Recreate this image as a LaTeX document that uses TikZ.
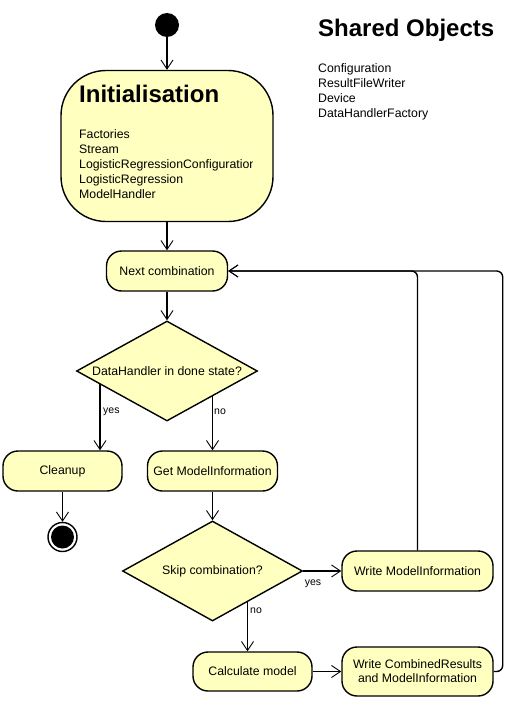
\documentclass[tikz,border=0pt]{standalone}
\usepackage{fontspec}
\setmainfont{Liberation Sans}
\usetikzlibrary{shapes.geometric,arrows.meta,calc}
\definecolor{boxfill}{HTML}{FFFFC0}
\pgfdeclarelayer{bg}
\pgfdeclarelayer{back}
\pgfsetlayers{back,bg,main}
\begin{document}
\begin{tikzpicture}[x=1pt,y=-1pt,
  box/.style={draw, fill=boxfill, line width=1.4pt, rounded corners=15pt, inner sep=0pt,
              font=\fontsize{12.3}{14}\selectfont, align=center},
  dia/.style={draw, fill=boxfill, line width=1.4pt, diamond, inner sep=0pt},
  arr/.style={line width=1.4pt, -{Straight Barb[length=9pt,width=12pt,line width=0.9pt]}},
  lbl/.style={font=\fontsize{10.5}{12}\selectfont, inner sep=0pt},
  txt/.style={font=\fontsize{12.3}{14}\selectfont, inner sep=0pt},
  item/.style={font=\fontsize{12.3}{15}\selectfont, inner sep=0pt, anchor=base west},
  head/.style={font=\bfseries\fontsize{24}{28}\selectfont, inner sep=0pt, anchor=base west},
]
\useasboundingbox (0,0) rectangle (514,701);
\begin{pgfonlayer}{back}
  \fill[white] (0,0) rectangle (514,701);
\end{pgfonlayer}

% start
\node[circle, fill=black, minimum size=24pt, inner sep=0pt] (start) at (167,25) {};

% initialisation
\node[box, rounded corners=45pt, minimum width=212pt, minimum height=151pt] (init) at (167,146) {};
\node[head] (inittitle) at (79,102) {Initialisation};
\begin{scope}
  \clip (61,110) rectangle (252.5,215);
  \foreach \t [count=\i] in {Factories,Stream,LogisticRegressionConfiguration,LogisticRegression,ModelHandler}
    \node[item] (init-\i) at (79,123+15*\i) {\t};
\end{scope}

% shared objects
\node[head] (shared) at (318,37) {Shared Objects};
\foreach \t [count=\i] in {Configuration,ResultFileWriter,Device,DataHandlerFactory}
  \node[item] (shared-\i) at (318,57+15*\i) {\t};

% activities
\node[box, minimum width=121pt, minimum height=40pt] (next) at (167,271) {Next combination};
\node[dia, minimum width=181pt, minimum height=100pt] (d1) at (167,371) {};
\node[txt] (d1t) at (d1.center) {DataHandler in done state?};
\node[box, minimum width=119pt, minimum height=40pt] (cleanup) at (62.5,471) {Cleanup};
\node[box, minimum width=130pt, minimum height=40pt] (getmi) at (212.5,471) {Get ModelInformation};
\node[circle, draw=black, line width=1.4pt, fill=white, minimum size=29pt, inner sep=0pt] (end) at (62.5,537) {};
\node[circle, fill=black, minimum size=23pt, inner sep=0pt] (endin) at (end.center) {};
\node[dia, minimum width=180pt, minimum height=100pt] (d2) at (212.5,571) {};
\node[txt] (d2t) at (d2.center) {Skip combination?};
\node[box, minimum width=151pt, minimum height=40pt] (wmi) at (417.5,571) {Write ModelInformation};
\node[box, minimum width=119pt, minimum height=39pt] (calc) at (252.5,671.5) {Calculate model};
\node[box, minimum width=151pt, minimum height=49pt] (wc) at (417.5,671.5) {Write CombinedResults\\and ModelInformation};

% labels
\node[lbl, anchor=west] (lyes1) at (103,412) {yes};
\node[lbl, anchor=west] (lno1) at (214,412) {no};
\node[lbl] (lyes2) at (313,584) {yes};
\node[lbl, anchor=west] (lno2) at (250,611) {no};

% connectors
\begin{pgfonlayer}{bg}
  \draw[arr] (start.south) -- (init.north);
  \draw[arr] (init.south) -- (next.north);
  \draw[arr] (next.south) -- (d1.north);
  \coordinate (yesx) at ([xshift=37.5pt]cleanup.north);
  \draw[arr] (yesx |- d1.center) -- (yesx);
  \draw[arr] (getmi.north |- d1.center) -- (getmi.north);
  \draw[arr] (cleanup.south) -- (end.north);
  \draw[arr] (getmi.south) -- (d2.north);
  \draw[arr] (d2.east) -- (wmi.west);
  \coordinate (nox) at ([xshift=-5pt]calc.north);
  \draw[arr] (nox |- d2.center) -- (nox);
  \draw[arr] (calc.east) -- (wc.west);
  \draw[arr, rounded corners=6pt] (wmi.north) |- (next.east);
  \draw[arr, rounded corners=6pt] (wc.east) -- ++(9,0) |- (next.east);
\end{pgfonlayer}
\end{tikzpicture}
\end{document}
